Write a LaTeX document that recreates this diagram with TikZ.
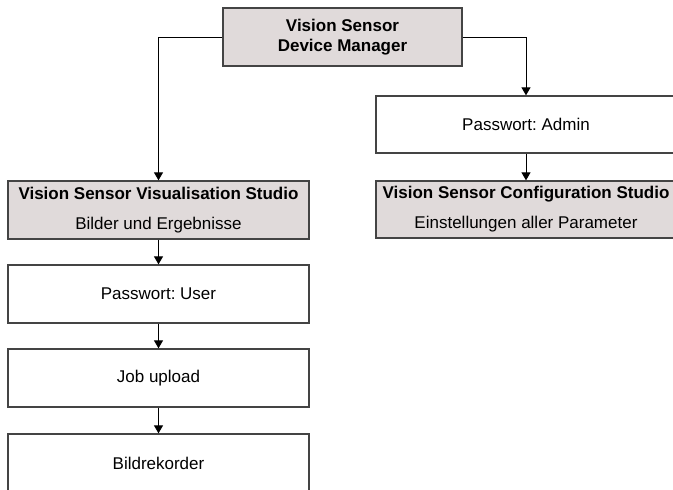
\documentclass[tikz,border=0pt]{standalone}
\usepackage{fontspec}
\setmainfont{Liberation Sans}
\usetikzlibrary{arrows.meta}
\definecolor{boxgrey}{HTML}{E0DADA}
\definecolor{edge}{HTML}{444444}
\frenchspacing
\begin{document}
\begin{tikzpicture}[x=1pt,y=-1pt,
  box/.style={draw=edge, line width=1.3pt, minimum width=300pt, minimum height=57pt,
    inner sep=0pt, align=center, font=\fontsize{17}{20}\selectfont},
  greybox/.style={box, fill=boxgrey},
  arr/.style={line width=1pt, -{Triangle[length=8pt,width=9pt]}}]
\useasboundingbox (0,0) rectangle (673,490);
\clip (0,0) rectangle (673,490);

% root
\node[greybox, minimum width=239pt, minimum height=58pt] (dm) at (342.5,37)
  {\bfseries Vision Sensor\\\bfseries Device Manager};

% left branch
\node[greybox, minimum width=301pt, minimum height=58pt] (vis) at (158.5,210)
  {\textbf{Vision Sensor Visualisation Studio}\\[10pt]Bilder und Ergebnisse};
\node[box, minimum width=301pt, minimum height=58pt] (user) at (158.5,294) {Passwort: User};
\node[box, minimum width=301pt, minimum height=58pt] (job) at (158.5,378) {Job upload};
\node[box, minimum width=301pt, minimum height=58pt] (bild) at (158.5,463) {Bildrekorder};

% right branch
\node[box] (admin) at (526,124.5) {Passwort: Admin};
\node[greybox] (cfg) at (526,209.5)
  {\textbf{Vision Sensor Configuration Studio}\\[10pt]Einstellungen aller Parameter};

% connectors
\draw[arr] (dm.west) -| (vis.north);
\draw[arr] (dm.east) -| (admin.north);
\draw[arr] (admin) -- (cfg);
\draw[arr] (vis) -- (user);
\draw[arr] (user) -- (job);
\draw[arr] (job) -- (bild);
\end{tikzpicture}
\end{document}
